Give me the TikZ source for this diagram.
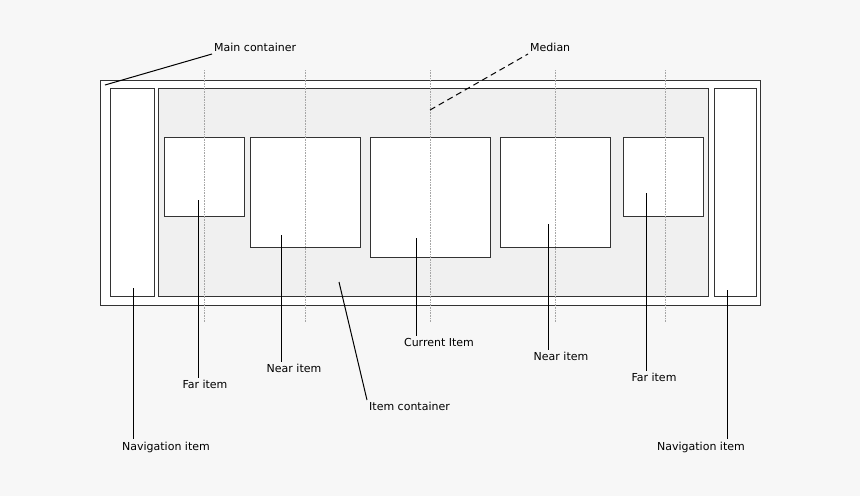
\documentclass[tikz,border=0pt]{standalone}
\usepackage{fontspec}
\setmainfont{DejaVu Sans}
\usetikzlibrary{positioning}
\definecolor{paper}{HTML}{F7F7F7}
\definecolor{ink}{HTML}{333333}
\definecolor{shade}{HTML}{F0F0F0}

\begin{document}
\begin{tikzpicture}[
    x=1pt, y=-1pt,
    font=\fontsize{11}{13}\selectfont,
    box/.style={draw=ink, line width=1.4pt, inner sep=0pt, anchor=north west},
    blank/.style={box, fill=white},
    tray/.style={box, fill=shade},
    lbl/.style={inner sep=2pt, text=black},
    lead/.style={draw=black, line width=1pt},
    guide/.style={draw=gray!70, densely dotted, line width=0.6pt},
]
\fill[paper] (0,0) rectangle (860,496);
\useasboundingbox (0,0) rectangle (860,496);

% containers
\node[blank, minimum width=660pt, minimum height=225pt] (main) at (100,80) {};
\node[blank, minimum width=44pt, minimum height=208pt] (navl) at (110,88) {};
\node[tray, minimum width=550pt, minimum height=208pt] (tray) at (158,88) {};
\node[blank, minimum width=42pt, minimum height=208pt] (navr) at (714,88) {};

% items
\node[blank, minimum width=80pt, minimum height=79pt] (farl) at (164,137) {};
\node[blank, minimum width=110pt, minimum height=110pt] (nearl) at (250,137) {};
\node[blank, minimum width=120pt, minimum height=120pt] (cur) at (370,137) {};
\node[blank, minimum width=110pt, minimum height=110pt] (nearr) at (500,137) {};
\node[blank, minimum width=80pt, minimum height=79pt] (farr) at (623,137) {};

% medians
\foreach \gx in {204,305,430,555,665}
    \draw[guide] (\gx,70) -- (\gx,322);

% labels
\node[lbl, anchor=south west] (lmain) at (212,54) {Main container};
\node[lbl, anchor=south west] (lmed) at (528,54) {Median};
\node[lbl] (lnavl) at (166,447) {Navigation item};
\node[lbl] (lfarl) at (205,384) {Far item};
\node[lbl] (lnearl) at (294,368) {Near item};
\node[lbl, anchor=north west] (ltray) at (367,400) {Item container};
\node[lbl] (lcur) at (439,342) {Current Item};
\node[lbl] (lnearr) at (561,356) {Near item};
\node[lbl] (lfarr) at (654,377) {Far item};
\node[lbl] (lnavr) at (701,447) {Navigation item};

% pins
\coordinate (pmain) at (105,85);
\coordinate (pmed) at (430,110);
\coordinate (pnavl) at (133,288);
\coordinate (pfarl) at (198,200);
\coordinate (pnearl) at (281,235);
\coordinate (ptray) at (339,282);
\coordinate (pcur) at (416,238);
\coordinate (pnearr) at (548,224);
\coordinate (pfarr) at (646,193);
\coordinate (pnavr) at (727,290);

\draw[lead] (pmain) -- (lmain.south west);
\draw[lead, dash pattern=on 6pt off 4pt] (pmed) -- (lmed.south west);
\draw[lead] (pnavl) -- (lnavl.north -| pnavl);
\draw[lead] (pfarl) -- (lfarl.north -| pfarl);
\draw[lead] (pnearl) -- (lnearl.north -| pnearl);
\draw[lead] (ptray) -- (ltray.north west);
\draw[lead] (pcur) -- (lcur.north -| pcur);
\draw[lead] (pnearr) -- (lnearr.north -| pnearr);
\draw[lead] (pfarr) -- (lfarr.north -| pfarr);
\draw[lead] (pnavr) -- (lnavr.north -| pnavr);
\end{tikzpicture}
\end{document}
